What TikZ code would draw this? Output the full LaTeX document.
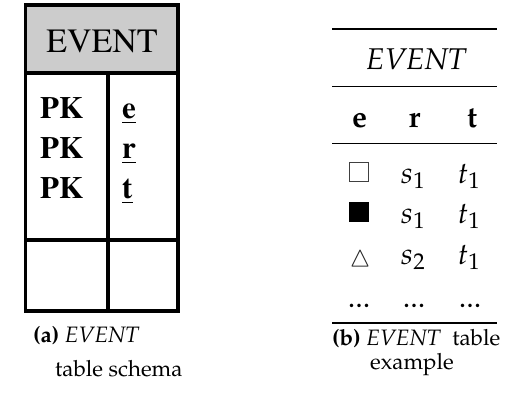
\documentclass[tikz,border=0pt]{standalone}
\usepackage[T1]{fontenc}
\usepackage{mathpazo}
\newcommand\tmsfont{\fontfamily{ptm}\selectfont}
\tikzset{
  grid/.style={line width=3.5pt, line cap=rect},
  thickrule/.style={line width=1.8pt},
  thinrule/.style={line width=1.0pt},
  schemahead/.style={inner sep=0pt, anchor=base, font=\tmsfont\fontsize{34}{40}\selectfont},
  schemakey/.style={inner sep=0pt, anchor=base west, font=\tmsfont\bfseries\fontsize{31}{37}\selectfont},
  cell/.style={inner sep=0pt, anchor=base, font=\fontsize{30}{36}\selectfont},
  caption/.style={inner sep=0pt, anchor=base west, font=\fontsize{22.3}{27}\selectfont},
}
\begin{document}
\begin{tikzpicture}[x=1pt, y=-1pt]
\useasboundingbox (0,0) rectangle (507,392);

% ---- (a) schema box ----
\fill[gray!40] (25.5,5) rectangle (178,73);
\draw[grid] (25.5,5) rectangle (178,311);
\draw[grid] (25.5,73) -- (178,73);
\draw[grid] (108,73) -- (108,311);
\draw[grid] (25.5,240) -- (178,240);

\node[schemahead] (sname) at (102,52) {EVENT};
\node[schemakey] (pk1) at (40,118) {PK};
\node[schemakey] (pk2) at (40,158) {PK};
\node[schemakey] (pk3) at (40,198) {PK};
\node[schemakey] (ae) at (122,118) {\underline{e}};
\node[schemakey] (ar) at (122,158) {\underline{r}};
\node[schemakey] (at) at (122,198) {\underline{t}};

\node[caption] (capa1) at (33,342) {\textbf{(a)} \textit{EVENT}};
\node[caption] (capa2) at (55,376) {table schema};

% ---- (b) example table ----
\draw[thickrule] (332,29) -- (497,29);
\draw[thinrule] (332,86) -- (497,86);
\draw[thinrule] (332,143) -- (497,143);
\draw[thickrule] (332,323) -- (497,323);

\node[cell, anchor=base west] (bname) at (366,69) {\textit{EVENT}};
\node[cell] (he) at (359.5,127) {\textbf{e}};
\node[cell] (hr) at (414.5,127) {\textbf{r}};
\node[cell] (ht) at (472,127) {\textbf{t}};

% symbols in the e column
\draw[line width=1.1pt, black!75] (349.5,162.5) rectangle (368.5,181.5);
\fill (349,202) rectangle (369,222);
\draw[line width=1.0pt, black!80, line join=round] (352,266) -- (368,266) -- (360,250) -- cycle;

\node[cell] (r1s) at (413,183) {$s_1$};
\node[cell] (r1t) at (469,183) {$t_1$};
\node[cell] (r2s) at (413,223) {$s_1$};
\node[cell] (r2t) at (469,223) {$t_1$};
\node[cell] (r3s) at (413,264) {$s_2$};
\node[cell] (r3t) at (469,264) {$t_1$};
\node[cell] (d1) at (359,307) {...};
\node[cell] (d2) at (414,307) {...};
\node[cell] (d3) at (470,307) {...};

\node[caption] (capb1) at (332,345) {\textbf{(b)} \textit{EVENT}\ \ table};
\node[caption, anchor=base] (capb2) at (412,369) {example};
\end{tikzpicture}
\end{document}
